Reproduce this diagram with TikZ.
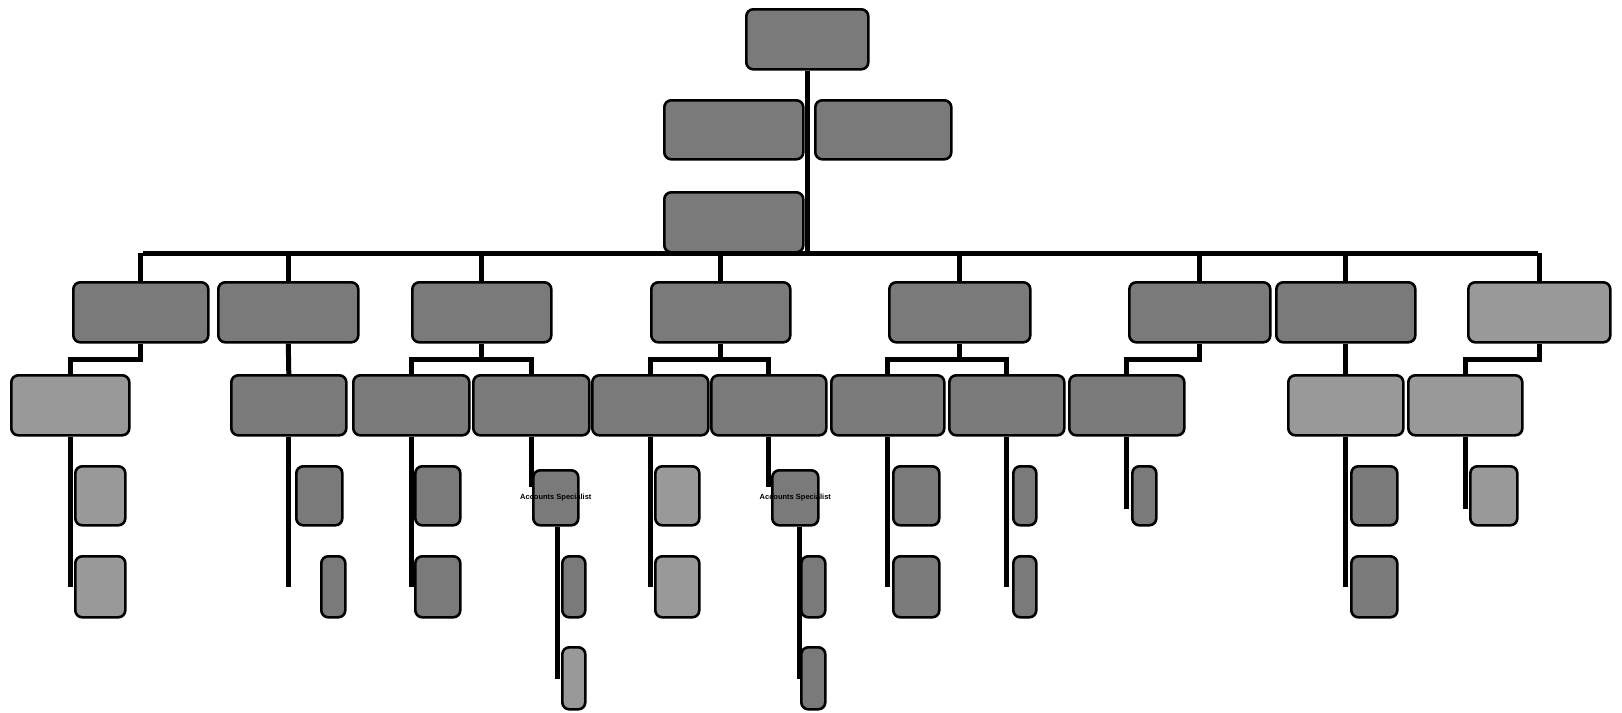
\documentclass[tikz,border=0pt]{standalone}
\usepackage{fontspec}
\setmainfont{Liberation Sans}
\usetikzlibrary{calc}
\tikzset{
  box/.style={draw=black, line width=2.6pt, rounded corners=7pt, fill=black!52, inner sep=0pt, anchor=north west},
  lbox/.style={box, fill=black!40},
  link/.style={draw=black, line width=5pt},
  lbl/.style={font=\bfseries\fontsize{7.5}{8}\selectfont, text=black}
}
\newcommand{\bx}[6][]{\node[box,#1,minimum width={#5-#3},minimum height={#6-#4}] (#2) at (#3,#4) {};}
\begin{document}
\begin{tikzpicture}[x=1pt,y=-1pt]
\useasboundingbox (0,0) rectangle (1622,712);
% top part
\bx{top}{745}{8}{867}{68}
\coordinate (busL) at (143,253);
\coordinate (busR) at (1538,253);
\draw[link] (top.south) -- (top.south |- busL);
\draw[link] (busL) -- (busR);
\bx{s1}{663}{99}{802}{158}
\bx{s2}{814}{99}{950}{158}
\bx{s3}{663}{191}{802}{251}
% level 3
\bx{A}{72}{281}{207}{341}
\bx{B}{217}{281}{357}{341}
\bx{C}{411}{281}{550}{341}
\bx{D}{650}{281}{789}{341}
\bx{E}{888}{281}{1029}{341}
\bx{F}{1128}{281}{1269}{341}
\bx{G}{1275}{281}{1414}{341}
\bx[lbox]{H}{1467}{281}{1609}{341}
\foreach \n in {A,B,C,D,E,F,G,H} {\draw[link] (\n.north) -- (\n.north |- busL);}
% level 4
\bx[lbox]{a1}{10}{374}{128}{434}
\bx{b1}{230}{374}{345}{434}
\bx{c1}{352}{374}{468}{434}
\bx{c2}{472}{374}{588}{434}
\bx{d1}{591}{374}{707}{434}
\bx{d2}{710}{374}{825}{434}
\bx{e1}{830}{374}{943}{434}
\bx{e2}{948}{374}{1063}{434}
\bx{f1}{1068}{374}{1183}{434}
\bx[lbox]{g1}{1287}{374}{1402}{434}
\bx[lbox]{h1}{1407}{374}{1521}{434}
\draw[link] (A.south) -- ++(0,16) -| (a1.north);
\draw[link] (B.south) -- (b1.north);
\draw[link] (C.south) -- ++(0,16) -| (c1.north);
\draw[link] (C.south) -- ++(0,16) -| (c2.north);
\draw[link] (D.south) -- ++(0,16) -| (d1.north);
\draw[link] (D.south) -- ++(0,16) -| (d2.north);
\draw[link] (E.south) -- ++(0,16) -| (e1.north);
\draw[link] (E.south) -- ++(0,16) -| (e2.north);
\draw[link] (F.south) -- ++(0,16) -| (f1.north);
\draw[link] (G.south) -- (g1.north);
\draw[link] (H.south) -- ++(0,16) -| (h1.north);
% level 5 lines (drawn first)
\coordinate (a1e) at ($(a1.south)+(0,150)$);
\coordinate (b1e) at ($(b1.south)+(0,150)$);
\coordinate (c1e) at ($(c1.south)+(0,150)$);
\coordinate (c2e) at ($(c2.south)+(0,50)$);
\coordinate (d1e) at ($(d1.south)+(0,150)$);
\coordinate (d2e) at ($(d2.south)+(0,50)$);
\coordinate (e1e) at ($(e1.south)+(0,150)$);
\coordinate (e2e) at ($(e2.south)+(0,150)$);
\coordinate (f1e) at ($(f1.south)+(0,72)$);
\coordinate (g1e) at ($(g1.south)+(0,150)$);
\coordinate (h1e) at ($(h1.south)+(0,72)$);
\foreach \n in {a1,b1,c1,c2,d1,d2,e1,e2,f1,g1,h1} {\draw[link] (\n.south) -- (\n e);}
% level 5 boxes
\bx[lbox]{a1a}{74}{465}{124}{524}
\bx[lbox]{a1b}{74}{555}{124}{616}
\bx{b1a}{295}{465}{341}{524}
\bx{b1b}{320}{555}{344}{616}
\bx{c1a}{414}{465}{459}{524}
\bx{c1b}{414}{555}{459}{616}
\bx{acc1}{532}{469}{577}{524}
\draw[link] ($(acc1.south)+(2,0)$) coordinate (acc1s) -- ($(acc1s)+(0,152)$);
\bx{c2b}{561}{555}{584}{616}
\bx[lbox]{c2c}{561}{646}{584}{708}
\node[lbl] (acc1l) at (acc1.center) {Accounts Specialist};
\bx[lbox]{d1a}{654}{465}{698}{524}
\bx[lbox]{d1b}{654}{555}{698}{616}
\bx{acc2}{771}{469}{817}{524}
\draw[link] ($(acc2.south)+(4,0)$) coordinate (acc2s) -- ($(acc2s)+(0,152)$);
\bx{d2b}{800}{555}{824}{616}
\bx{d2c}{800}{646}{824}{708}
\node[lbl] (acc2l) at (acc2.center) {Accounts Specialist};
\bx{e1a}{892}{465}{938}{524}
\bx{e1b}{892}{555}{938}{616}
\bx{e2a}{1012}{465}{1035}{524}
\bx{e2b}{1012}{555}{1035}{616}
\bx{f1a}{1131}{465}{1155}{524}
\bx{g1a}{1350}{465}{1396}{524}
\bx{g1b}{1350}{555}{1396}{616}
\bx[lbox]{h1a}{1469}{465}{1516}{524}
\end{tikzpicture}
\end{document}
